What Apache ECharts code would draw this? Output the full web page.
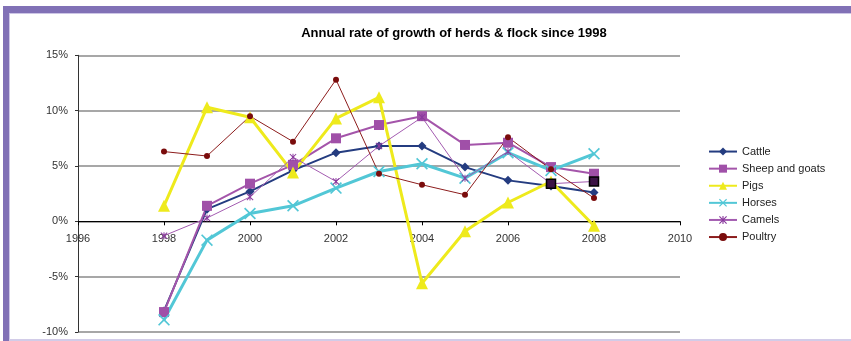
<!DOCTYPE html>
<html>
<head>
<meta charset="utf-8">
<title>Annual rate of growth of herds & flock since 1998</title>
<script src="https://cdn.jsdelivr.net/npm/echarts@6/dist/echarts.min.js"></script>
<style>
  html, body { margin: 0; padding: 0; background: #ffffff; }
  #chart { width: 851px; height: 341px; }
</style>
</head>
<body>
<div id="chart"></div>
<script>
// Annual growth rate (%) of livestock herds and flocks, 1998-2008
const years   = [1998, 1999, 2000, 2001, 2002, 2003, 2004, 2005, 2006, 2007, 2008];
const cattle  = [-8.1, 1.1, 2.7, 4.6, 6.2, 6.8, 6.8, 4.9, 3.7, 3.2, 2.6];
const sheep   = [-8.2, 1.4, 3.4, 5.1, 7.5, 8.7, 9.5, 6.9, 7.1, 4.9, 4.3];
const pigs    = [1.4, 10.3, 9.4, 4.4, 9.3, 11.2, -5.6, -0.9, 1.7, 3.6, -0.4];
const horses  = [-8.9, -1.7, 0.7, 1.4, 3.0, 4.5, 5.2, 3.9, 6.2, 4.6, 6.1];
const camels  = [-1.3, 0.3, 2.2, 5.8, 3.6, 6.8, 9.4, 3.9, 6.3, 3.4, 3.6];
const poultry = [6.3, 5.9, 9.5, 7.2, 12.8, 4.3, 3.3, 2.4, 7.6, 4.7, 2.1];

const xTicks = { min: 1996, max: 2010, step: 2 };
const yTicks = { min: -10, max: 15, step: 5 };

const FONT = '"Liberation Sans", Arial, sans-serif';

// plot box
const GRID = { left: 78, right: 171, top: 55.3, bottom: 9 };
const CHART_H = 341;
const plotH = CHART_H - GRID.top - GRID.bottom;
// lift the year axis (line, ticks and labels) up to the 0% level
const xAxisLift = -plotH * (0 - yTicks.min) / (yTicks.max - yTicks.min);

const crossSymbol = 'path://M2,0 L10,8 L18,0 L20,2 L12,10 L20,18 L18,20 L10,12 L2,20 L0,18 L8,10 L0,2 Z';
const starSymbol = 'path://M1,0 L5,4 L9,0 L10,1 L6,5 L10,9 L9,10 L5,6 L1,10 L0,9 L4,5 L0,1 Z M4.3,0 L5.7,0 L5.7,10 L4.3,10 Z';

function pairs(values) {
  return years.map((y, i) => [y, values[i]]);
}

// The last two camel points carry a boxed highlight marker
function camelPoints(values) {
  return years.map((y, i) => {
    if (y >= 2007) {
      return {
        value: [y, values[i]],
        symbol: 'rect',
        symbolSize: 9,
        itemStyle: { color: '#3a1245', borderColor: '#000000', borderWidth: 1.5 }
      };
    }
    return [y, values[i]];
  });
}

function lineSeries(name, data, color, width, symbol, size, markerColor) {
  return {
    name: name,
    type: 'line',
    data: data,
    symbol: symbol,
    symbolSize: size,
    showAllSymbol: true,
    lineStyle: { color: color, width: width },
    itemStyle: { color: markerColor || color, borderWidth: 0 },
    emphasis: { disabled: true }
  };
}

const chart = echarts.init(document.getElementById('chart'), null, { renderer: 'canvas' });

chart.setOption({
  animation: false,
  textStyle: { fontFamily: FONT },
  title: {
    text: 'Annual rate of growth of herds & flock since 1998',
    left: 449,
    textAlign: 'center',
    top: 22,
    textStyle: { fontFamily: FONT, fontSize: 13, fontWeight: 'bold', color: '#000000' }
  },
  legend: {
    orient: 'vertical',
    left: 708,
    top: 143,
    padding: 0,
    itemWidth: 28,
    itemHeight: 10,
    itemGap: 0,
    textStyle: { fontFamily: FONT, fontSize: 11, color: '#222222', lineHeight: 17.1 },
    data: ['Cattle', 'Sheep and goats', 'Pigs', 'Horses', 'Camels', 'Poultry']
  },
  grid: {
    left: GRID.left, right: GRID.right, top: GRID.top, bottom: GRID.bottom,
    containLabel: false,
    outerBoundsMode: 'none'
  },
  xAxis: {
    type: 'value',
    min: xTicks.min,
    max: xTicks.max,
    interval: xTicks.step,
    offset: xAxisLift,
    axisLine: { onZero: false, lineStyle: { color: '#000000', width: 1 } },
    axisTick: { show: true, length: 4, lineStyle: { color: '#000000' } },
    axisLabel: {
      margin: 12,
      fontFamily: FONT,
      fontSize: 11,
      color: '#333333',
      formatter: v => String(v)
    },
    splitLine: { show: false }
  },
  yAxis: {
    type: 'value',
    min: yTicks.min,
    max: yTicks.max,
    interval: yTicks.step,
    axisLine: { show: true, lineStyle: { color: '#333333', width: 1 } },
    axisTick: { show: true, length: 3, lineStyle: { color: '#333333' } },
    axisLabel: {
      margin: 10,
      fontFamily: FONT,
      fontSize: 11,
      color: '#333333',
      formatter: v => v + '%'
    },
    splitLine: { show: true, lineStyle: { color: '#8a8a8a', width: 1.6 } }
  },
  series: [
    lineSeries('Cattle', pairs(cattle), '#243c80', 2, 'diamond', 9),
    lineSeries('Sheep and goats', pairs(sheep), '#a455aa', 2, 'rect', 10, '#a050a8'),
    lineSeries('Pigs', pairs(pigs), '#eeea1c', 3, 'triangle', 12),
    lineSeries('Horses', pairs(horses), '#52c7d6', 3, crossSymbol, 12),
    lineSeries('Camels', camelPoints(camels), '#a35bb0', 1, starSymbol, 7, '#8a3a9e'),
    lineSeries('Poultry', pairs(poultry), '#8c1c1c', 1, 'circle', 6, '#7a0c0c')
  ],
  graphic: [
    // page frame: top band and left bar
    { type: 'rect', shape: { x: 3, y: 6, width: 848, height: 7 }, style: { fill: '#8171b6' }, silent: true },
    { type: 'rect', shape: { x: 3, y: 6, width: 6, height: 335 }, style: { fill: '#8171b6' }, silent: true },
    { type: 'rect', shape: { x: 9, y: 13, width: 842, height: 1 }, style: { fill: '#cdc6e6' }, silent: true },
    { type: 'rect', shape: { x: 9, y: 13, width: 1, height: 328 }, style: { fill: '#cdc6e6' }, silent: true },
    { type: 'rect', shape: { x: 9, y: 339, width: 842, height: 2 }, style: { fill: '#d2cce8' }, silent: true }
  ]
});
</script>
</body>
</html>
